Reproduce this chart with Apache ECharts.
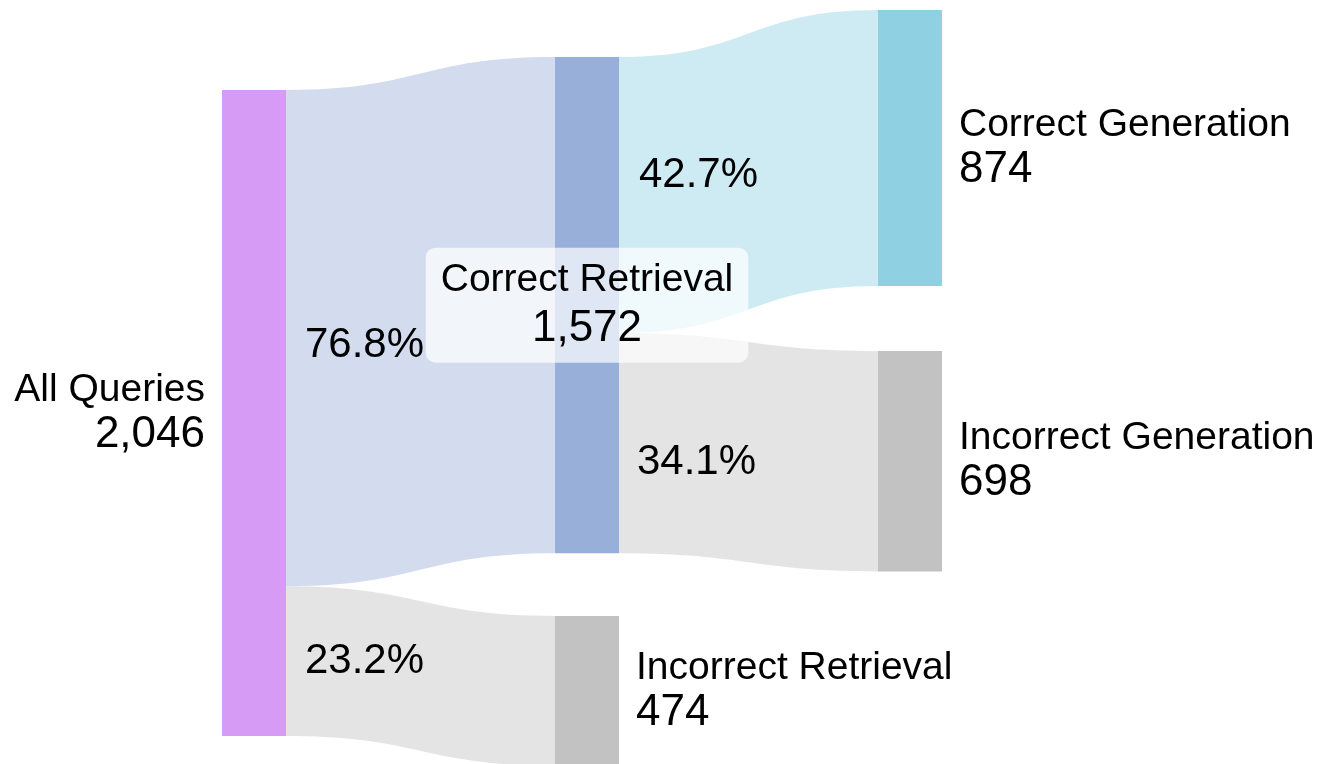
<!DOCTYPE html>
<html>
<head>
<meta charset="utf-8">
<script src="https://cdn.jsdelivr.net/npm/echarts@6/dist/echarts.min.js"></script>
<style>
  html, body { margin: 0; padding: 0; background: #fff; }
  #chart { width: 1324px; height: 764px; }
</style>
</head>
<body>
<div id="chart"></div>
<script>
// data
var nodeNames = ['All Queries', 'Correct Retrieval', 'Incorrect Retrieval', 'Correct Generation', 'Incorrect Generation'];
var linkSources = ['All Queries', 'All Queries', 'Correct Retrieval', 'Correct Retrieval'];
var linkTargets = ['Correct Retrieval', 'Incorrect Retrieval', 'Correct Generation', 'Incorrect Generation'];
var linkValues = [1572, 474, 874, 698];

// placement inside the layout box + colours
var nodeLocalX = [0, 0.4625, 0.4625, 0.9111, 0.9111];
var nodeLocalY = [0.1058, 0.0622, 0.8016, 0, 0.4511];
var nodeColors = ['#d69cf5', '#98b0d9', '#c2c2c2', '#8fd1e3', '#c2c2c2'];
var nodeLabelPos = ['left', 'inside', 'right', 'right', 'right'];
var edgeLabelOffset = [[-56, 24], [-56, -15], [-50, 4], [-52, 10]];

var FONT = 'Liberation Sans, Arial, sans-serif';

var total = 0;
for (var i = 0; i < linkValues.length; i++) {
    if (linkSources[i] == nodeNames[0]) total += linkValues[i];
}

function nodeValue(name) {
    var sIn = 0, sOut = 0;
    for (var i = 0; i < linkValues.length; i++) {
        if (linkTargets[i] == name) sIn += linkValues[i];
        if (linkSources[i] == name) sOut += linkValues[i];
    }
    return Math.max(sIn, sOut);
}

var nodes = [];
for (var j = 0; j < nodeNames.length; j++) {
    var lbl = {
        position: nodeLabelPos[j],
        distance: 17
    };
    //中间节点的标签放在白色半透明框里
    if (nodeLabelPos[j] == 'inside') {
        lbl.backgroundColor = 'rgba(255,255,255,0.7)';
        lbl.borderRadius = 10;
        lbl.padding = [9, 15, 9, 15];
        lbl.align = 'center';
        lbl.rich = {
            n: { fontSize: 39, lineHeight: 47, color: '#000', fontFamily: FONT },
            v: { fontSize: 44, lineHeight: 50, color: '#000', fontFamily: FONT }
        };
    }
    nodes.push({
        name: nodeNames[j],
        localX: nodeLocalX[j],
        localY: nodeLocalY[j],
        itemStyle: { color: nodeColors[j] },
        label: lbl
    });
}

var links = [];
for (var k = 0; k < linkValues.length; k++) {
    links.push({
        source: linkSources[k],
        target: linkTargets[k],
        value: linkValues[k],
        edgeLabel: { offset: edgeLabelOffset[k] }
    });
}

var myChart = echarts.init(document.getElementById('chart'));
myChart.setOption({
    animation: false,
    series: [{
        type: 'sankey',
        left: 222,
        top: 10,
        right: 382,
        bottom: -2,
        nodeWidth: 64,
        nodeGap: 110,
        nodeAlign: 'left',
        layoutIterations: 0,
        draggable: false,
        emphasis: { disabled: true },
        data: nodes,
        links: links,
        itemStyle: { borderWidth: 0 },
        lineStyle: { color: 'target', opacity: 0.44, curveness: 0.5 },
        label: {
            show: true,
            color: '#000',
            fontFamily: FONT,
            formatter: function (p) {
                return '{n|' + p.name + '}\n{v|' + nodeValue(p.name).toLocaleString('en-US') + '}';
            },
            rich: {
                n: { fontSize: 39, lineHeight: 44, color: '#000', fontFamily: FONT },
                v: { fontSize: 44, lineHeight: 46, color: '#000', fontFamily: FONT }
            }
        },
        edgeLabel: {
            show: true,
            color: '#000',
            fontSize: 42,
            fontFamily: FONT,
            formatter: function (p) {
                return (p.value / total * 100).toFixed(1) + '%';
            }
        }
    }]
});
</script>
</body>
</html>
